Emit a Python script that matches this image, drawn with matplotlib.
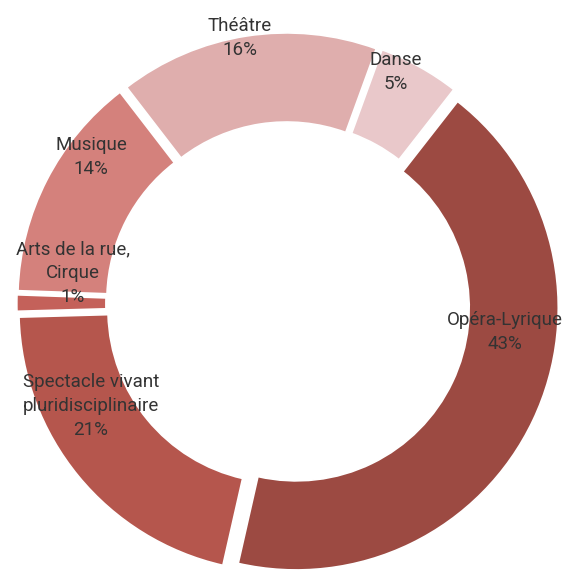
import matplotlib
matplotlib.use("Agg")
import matplotlib.pyplot as plt
from matplotlib import font_manager

# Data
categories = ["Opéra-Lyrique", "Spectacle vivant\npluridisciplinaire", "Arts de la rue,\nCirque",
              "Musique", "Théâtre", "Danse"]
shares = [43, 21, 1, 14, 16, 5]
colors = ["#9C4A42", "#B5564D", "#C4615A", "#D4817C", "#DFAEAD", "#E9C8CA"]

# label centres in figure pixels (x, y from top)
label_pos = [(505, 332), (91, 406), (73, 273), (91, 157), (240, 38), (396, 72)]

names = {f.name for f in font_manager.fontManager.ttflist}
fam = "Liberation Sans Narrow" if "Liberation Sans Narrow" in names else "Roboto"

W, H = 568, 570
fig = plt.figure(figsize=(W / 100, H / 100), dpi=100)
ax = fig.add_axes([0, 0, 1, 1])

scale = 262.0  # px per data unit
cx, cy = 288, 304

ax.pie(shares, colors=colors, startangle=90 - 38, counterclock=False,
       radius=1.0, explode=[0.035] * len(shares),
       wedgeprops=dict(width=0.34, edgecolor="white", linewidth=1.2))
ax.set_xlim(-cx / scale, (W - cx) / scale)
ax.set_ylim(-(H - cy) / scale, cy / scale)
ax.set_aspect("equal")
ax.axis("off")

for name, val, (px, py) in zip(categories, shares, label_pos):
    fig.text(px / W, 1 - py / H, f"{name}\n{val}%", ha="center", va="center",
             fontsize=13.5, color="#333333", family=fam, linespacing=1.4)

fig.savefig("out.png", dpi=100)
